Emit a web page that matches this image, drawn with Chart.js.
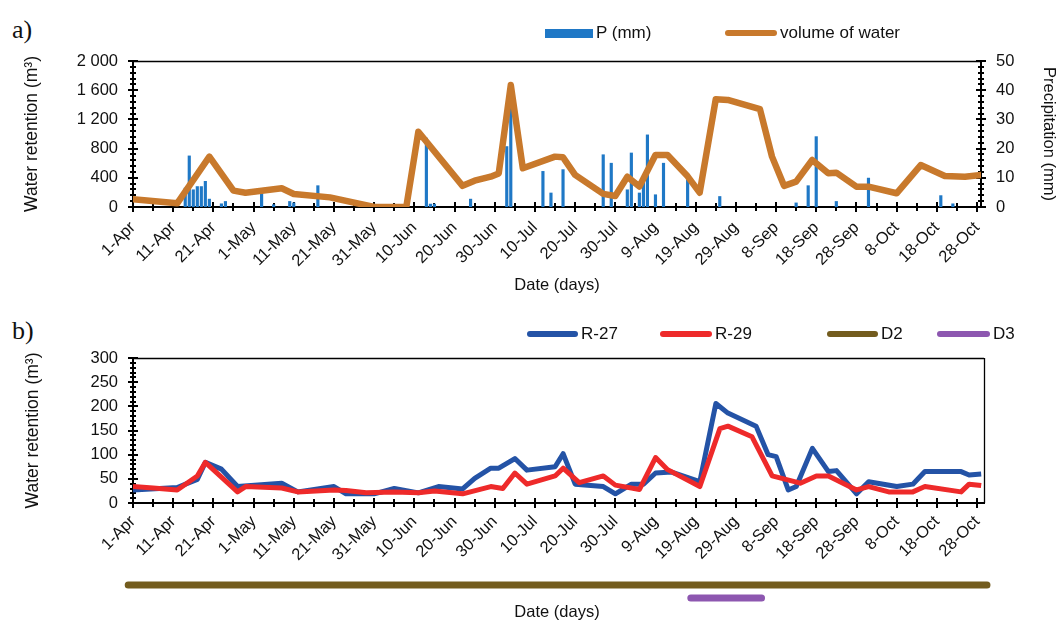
<!DOCTYPE html>
<html><head><meta charset="utf-8">
<script src="https://cdn.jsdelivr.net/npm/chart.js@4"></script>
<style>
body{margin:0;background:#fff;width:1058px;height:623px;position:relative;overflow:hidden;font-family:'Liberation Sans',Arial,sans-serif;color:#111}
canvas{position:absolute;left:0}
.lbl{position:absolute;font-family:'Liberation Serif','Times New Roman',serif;font-size:26px;line-height:26px;color:#111}
.legtxt{position:absolute;font-size:17px;line-height:20px;white-space:nowrap;color:#111}
.sw{position:absolute}
</style></head><body>
<div class="lbl" style="left:12px;top:17px">a)</div>
<div class="lbl" style="left:12px;top:318px">b)</div>
<canvas id="cA" width="1058" height="300" style="top:0"></canvas>
<canvas id="cB" width="1058" height="270" style="top:300px"></canvas>
<canvas id="cD" width="1058" height="68" style="top:555px"></canvas>
<div id="legA"></div><div id="legB"></div>
<script>
// ---------- data ----------
const xTickLabels = ['1-Apr','11-Apr','21-Apr','1-May','11-May','21-May','31-May','10-Jun','20-Jun','30-Jun','10-Jul','20-Jul','30-Jul','9-Aug','19-Aug','29-Aug','8-Sep','18-Sep','28-Sep','8-Oct','18-Oct','28-Oct'];
const retentionTicksA = ['0','400','800','1 200','1 600','2 000'];
const precipTicks = ['0','10','20','30','40','50'];
const retentionTicksB = ['0','50','100','150','200','250','300'];

// day index counted from 1-Apr
const precipDays = [13,14,15,16,17,18,19,22,23,32,35,39,40,46,73,74,75,84,93,94,102,104,107,117,119,123,124,126,127,128,130,132,138,146,165,168,170,175,183,201,204];
const precipMm   = [6.5,17.5,5.9,7,7,8.8,2.7,1.1,1.9,4.6,0.8,1.9,1.4,7.3,23.6,1,1,2.7,20.7,34,12.2,4.8,12.8,17.9,15,5.9,18.5,4.8,8.2,24.7,4.2,15,9.3,3.6,1.4,7.3,24.1,1.9,9.9,3.9,1.1];

const volumeDays = [0,11,19,25,28,37,40,49,60,68,71,82,85,89,91,94,97,105,107,110,117,120,123,126,130,133,138,141,145,148,156,159,162,165,169,173,175,180,183,190,196,202,207,211];
const volumeM3   = [105,50,690,225,195,256,178,132,0,0,1030,290,360,415,460,1670,530,690,680,440,180,150,415,280,712,712,420,196,1475,1466,1340,690,290,347,644,461,470,278,278,188,575,425,415,438];

const r27Days = [0,11,16,18,22,26,37,41,50,53,60,65,71,76,82,85,89,91,95,98,105,107,110,117,120,124,127,130,134,141,145,148,155,158,160,163,165,169,173,175,180,183,190,194,197,206,208,211];
const r27M3   = [27,32,49,84,70,34,41,23,34,19,19,30,21,34,29,51,72,72,92,68,75,102,39,34,19,39,39,62,64,44,206,186,159,100,96,27,34,113,65,67,19,44,34,39,65,65,58,60];

const r29Days = [0,5,11,16,18,26,28,37,41,50,53,58,65,71,75,82,89,92,95,98,105,107,111,117,120,126,130,133,141,146,148,154,159,166,170,173,180,183,188,194,197,206,208,211];
const r29M3   = [34,31,27,56,84,23,34,31,23,27,26,21,23,21,25,19,34,30,62,39,56,72,42,56,37,28,94,69,34,154,159,137,56,41,56,56,27,34,23,23,34,23,39,36];

const d2Span = [-1.2, 212.5];
const d3Span = [138.8, 156.4];

// ---------- styles ----------
const C = {bar:'#1f78c6', vol:'#c8792c', r27:'#2453a6', r29:'#ee2a2a', d2:'#735c1e', d3:'#8d57b0'};
const FONT = "'Liberation Sans', Arial, sans-serif";
Chart.defaults.font.family = FONT;
Chart.defaults.font.size = 16.5;
Chart.defaults.color = '#111';

const pts = (xs, ys) => xs.map((x,i)=>({x, y: ys[i]}));

const axisTicks = {
  id:'axisTicks',
  beforeDatasetsDraw(chart, args, opts){
    const ctx = chart.ctx;
    (opts.list||[]).forEach(t=>{
      const s = chart.scales[t.scale];
      ctx.save(); ctx.strokeStyle='#000'; ctx.lineWidth = 2;
      const n = Math.floor((s.max - s.min)/t.step + 1e-6);
      for(let k=0;k<=n;k++){
        const val = s.min + k*t.step;
        const major = Math.abs(val/t.major - Math.round(val/t.major)) < 1e-6;
        const len = major ? t.lenMajor : t.lenMinor;
        const p = Math.round(s.getPixelForValue(val));
        ctx.beginPath();
        if(s.isHorizontal()){ const y = s.top; ctx.moveTo(p, y-len); ctx.lineTo(p, y+len); }
        else { const x = s.position==='right' ? s.left : s.right; ctx.moveTo(x-len, p); ctx.lineTo(x+len, p); }
        ctx.stroke();
      }
      ctx.restore();
    });
  }
};
const frame = {
  id:'frame',
  afterDraw(chart, args, o){
    const {ctx, chartArea:a} = chart;
    ctx.save(); ctx.strokeStyle='#000'; ctx.lineWidth=1.3;
    ctx.beginPath(); ctx.moveTo(a.left, a.top+0.5); ctx.lineTo(a.right, a.top+0.5);
    if(o.right){ ctx.moveTo(a.right+0.5, a.top); ctx.lineTo(a.right+0.5, a.bottom); }
    ctx.stroke(); ctx.restore();
  }
};

const xTickCb = v => { const r = Math.round(v); return r % 10 === 0 ? (xTickLabels[r/10] ?? '') : ''; };
const noTickGrid = {display:false, drawTicks:false};

// ---------- chart a ----------
new Chart(document.getElementById('cA'), {
  type:'bar',
  data:{datasets:[
    {type:'bar', label:'P (mm)', data: pts(precipDays, precipMm), yAxisID:'yR', backgroundColor:C.bar, barThickness:2.5, order:2},
    {type:'line', label:'volume of water', data: pts(volumeDays, volumeM3), yAxisID:'y', borderColor:C.vol, borderWidth:6.5, pointRadius:0, tension:0, borderJoinStyle:'round', borderCapStyle:'round', order:1}
  ]},
  options:{
    animation:false, responsive:false, events:[],
    layout:{padding:{top:61,left:0,right:0,bottom:0}},
    plugins:{legend:{display:false}, tooltip:{enabled:false},
      axisTicks:{list:[{scale:'x',step:5,major:10,lenMajor:5,lenMinor:4},{scale:'y',step:80,major:400,lenMajor:5,lenMinor:3},{scale:'yR',step:2,major:10,lenMajor:5,lenMinor:3}]},
      frame:{right:false}},
    scales:{
      x:{type:'linear', min:0, max:211, offset:false, grid:noTickGrid, border:{color:'#000', width:2},
         ticks:{stepSize:10, includeBounds:false, autoSkip:false, minRotation:45, maxRotation:45, padding:11, labelOffset:0, callback:xTickCb},
         title:{display:true, text:'Date (days)', padding:{top:0,bottom:5}},
         afterFit(s){ s.height = 93; }},
      y:{position:'left', min:0, max:2000, grid:noTickGrid, border:{color:'#000', width:2},
         ticks:{stepSize:400, padding:15, callback:(v,i)=>retentionTicksA[i]},
         title:{display:true, text:'Water retention (m³)', font:{size:17.5}, padding:{top:22,bottom:0}},
         afterFit(s){ s.width = 133; }},
      yR:{position:'right', min:0, max:50, grid:noTickGrid, border:{color:'#000', width:2},
         ticks:{stepSize:10, padding:15, callback:(v,i)=>precipTicks[i]},
         title:{display:true, text:'Precipitation (mm)', padding:{top:0,bottom:0}},
         afterFit(s){ s.width = 77; }}
    }
  },
  plugins:[axisTicks, frame]
});

// ---------- chart b ----------
new Chart(document.getElementById('cB'), {
  type:'line',
  data:{datasets:[
    {label:'R-27', data: pts(r27Days, r27M3), borderColor:C.r27, borderWidth:5, pointRadius:0, tension:0, borderJoinStyle:'round', order:2},
    {label:'R-29', data: pts(r29Days, r29M3), borderColor:C.r29, borderWidth:5, pointRadius:0, tension:0, borderJoinStyle:'round', order:1}
  ]},
  options:{
    animation:false, responsive:false, events:[],
    layout:{padding:{top:58,left:0,right:74,bottom:0}},
    plugins:{legend:{display:false}, tooltip:{enabled:false},
      axisTicks:{list:[{scale:'x',step:5,major:10,lenMajor:5,lenMinor:4},{scale:'y',step:10,major:50,lenMajor:5,lenMinor:3}]},
      frame:{right:true}},
    scales:{
      x:{type:'linear', min:0, max:211.7, grid:noTickGrid, border:{color:'#000', width:2},
         ticks:{stepSize:10, includeBounds:false, autoSkip:false, minRotation:45, maxRotation:45, padding:9, labelOffset:0, callback:xTickCb},
         afterFit(s){ s.height = 67; }},
      y:{min:0, max:300, grid:noTickGrid, border:{color:'#000', width:2},
         ticks:{stepSize:50, padding:15, callback:(v,i)=>retentionTicksB[i]},
         title:{display:true, text:'Water retention (m³)', font:{size:17.5}, padding:{top:23,bottom:0}},
         afterFit(s){ s.width = 133; }}
    }
  },
  plugins:[axisTicks, frame]
});

// ---------- D2 / D3 periods ----------
new Chart(document.getElementById('cD'), {
  type:'line',
  data:{datasets:[
    {label:'D2', data: d2Span.map(x=>({x, y:1})), borderColor:C.d2, borderWidth:7, pointRadius:0, borderCapStyle:'round', clip:false},
    {label:'D3', data: d3Span.map(x=>({x, y:0})), borderColor:C.d3, borderWidth:7, pointRadius:0, borderCapStyle:'round', clip:false}
  ]},
  options:{
    animation:false, responsive:false, events:[],
    layout:{padding:{top:0,left:125,right:69,bottom:0}},
    plugins:{legend:{display:false}, tooltip:{enabled:false}},
    scales:{
      x:{type:'linear', min:-2, max:213, grid:{display:false, drawTicks:false}, border:{display:false}, ticks:{display:false},
         title:{display:true, text:'Date (days)', padding:{top:0,bottom:1}},
         afterFit(s){ s.height = 20; }},
      y:{display:false, min:-0.385, max:3.31}
    }
  }
});

// ---------- legends (HTML) ----------
function legend(id, items, cy){
  const host = document.getElementById(id);
  items.forEach(it=>{
    const sw = document.createElement('div'); sw.className='sw';
    const h = it.box ? 9 : 6;
    sw.style.cssText = `left:${it.x}px;top:${cy-h/2}px;width:${it.w}px;height:${h}px;background:${it.color};border-radius:${it.box?0:3}px`;
    host.appendChild(sw);
    const t = document.createElement('div'); t.className='legtxt';
    t.style.left = (it.x+it.w+3)+'px'; t.style.top = (cy-10)+'px';
    t.textContent = it.label; host.appendChild(t);
  });
}
legend('legA', [{label:'P (mm)', color:C.bar, x:545, w:48, box:true},{label:'volume of water', color:C.vol, x:725, w:52}], 33);
legend('legB', [{label:'R-27', color:C.r27, x:527, w:51},{label:'R-29', color:C.r29, x:660, w:52},{label:'D2', color:C.d2, x:827, w:51},{label:'D3', color:C.d3, x:937, w:53}], 334);
</script>
</body></html>
